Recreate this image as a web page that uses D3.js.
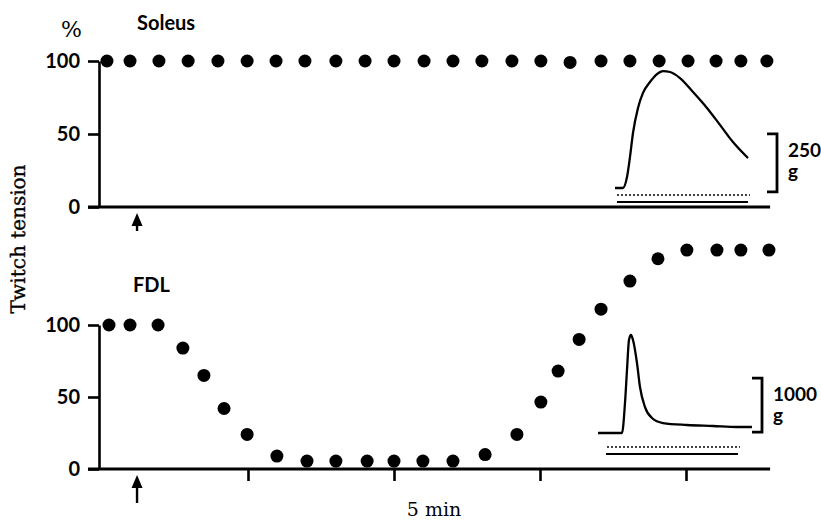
<!DOCTYPE html>
<html>
<head>
<meta charset="utf-8">
<script src="https://cdn.jsdelivr.net/npm/d3@7"></script>
<style>
  body { margin: 0; background: #fff; }
  svg { display: block; }
  text { opacity: 0.99; }
  .sans { font-family: Lato, "Open Sans", sans-serif; font-weight: 700; fill: #000; }
  .serif { font-family: "DejaVu Serif", serif; fill: #000; }
  .ylabel { stroke: #000; stroke-width: 0.35px; text-rendering: geometricPrecision; }
</style>
</head>
<body>
<svg id="chart" width="821" height="524"></svg>
<script>
// Time axis (minutes) and tension axis (% of control twitch)
const minuteTicks = [5, 10, 15, 20];
const tensionTicks = [0, 50, 100];

// Soleus: twitch tension (% of control) at each sample time (min)
const soleusTimes = [0.17, 0.96, 1.95, 2.95, 3.97, 4.97, 5.96, 6.95, 8.01, 9.01, 10.0, 11.03,
                     12.02, 13.01, 14.04, 15.03, 16.03, 17.09, 18.08, 19.08, 20.07, 21.03, 21.88, 22.77];
const soleusTension = [100, 100, 100, 100, 100, 100, 100, 100, 100, 100, 100, 100,
                       100, 100, 100, 100, 99, 100, 100, 100, 100, 100, 100, 100];

// FDL: twitch tension (% of control) at each sample time (min)
const fdlTimes = [0.24, 0.96, 1.92, 2.77, 3.49, 4.18, 4.97, 5.99, 7.02, 8.01, 9.08, 10.0, 10.99,
                  12.02, 13.12, 14.21, 15.03, 15.62, 16.34, 17.09, 18.08, 19.04, 20.03, 21.06, 21.88, 22.84];
const fdlTension = [100, 100, 100, 84, 65, 42, 24, 9, 5.5, 5.5, 5.5, 5.5, 5.5,
                    5.5, 10, 24, 46.5, 68, 90, 111, 130.5, 146, 152, 152, 152, 152];

// Time of injection (min), marked by arrows under each panel
const injectionTime = 1.2;

// Specimen twitch records: time (ms) and force (g)
const soleusTraceMs = [0, 24, 36, 45, 54, 69, 84, 105, 126, 144, 165, 195, 234, 276, 315, 354, 399];
const soleusTraceG  = [0, 0, 47, 134, 237, 345, 410, 457, 491, 504, 500, 474, 414, 345, 272, 198, 129];
const fdlTraceMs = [0, 72, 81, 87, 93, 99, 105, 117, 126, 141, 162, 195, 267, 345, 417, 462];
const fdlTraceG  = [0, 0, 555, 1167, 1722, 1815, 1722, 1296, 852, 481, 278, 185, 148, 130, 111, 111];

const svg = d3.select("#chart");

const x = d3.scaleLinear().domain([0, 20]).range([102, 686]);
const axisSpan = [-0.48, 22.88];
const yAxisX = 99;

const ySol = d3.scaleLinear().domain([0, 100]).range([207, 61]);
const yFdl = d3.scaleLinear().domain([0, 100]).range([469, 325]);

function styleAxis(g) {
  g.selectAll("path, line").attr("stroke", "#000").attr("stroke-width", 2.6);
  g.selectAll("text")
    .attr("class", "sans")
    .attr("fill", "#000")
    .style("font-size", "20px");
}

function drawPanel(yScale, times, values, withTicks, arrowTip, arrowTail) {
  const panel = svg.append("g");

  // tension axis
  panel.append("g")
    .attr("transform", `translate(${yAxisX},0)`)
    .call(d3.axisLeft(yScale).tickValues(tensionTicks).tickSize(11).tickSizeOuter(0).tickPadding(8))
    .call(styleAxis);

  // time baseline
  panel.append("line")
    .attr("x1", x(axisSpan[0])).attr("x2", x(axisSpan[1]))
    .attr("y1", yScale(0)).attr("y2", yScale(0))
    .attr("stroke", "#000").attr("stroke-width", 2.8);

  if (withTicks) {
    panel.append("g")
      .attr("transform", `translate(0,${yScale(0)})`)
      .call(d3.axisBottom(x).tickValues(minuteTicks).tickSize(12).tickFormat("").tickSizeOuter(0))
      .call(g => g.select(".domain").remove())
      .call(styleAxis);
  }

  // data points
  panel.append("g").selectAll("circle")
    .data(times.map((t, i) => [t, values[i]]))
    .join("circle")
    .attr("cx", d => x(d[0]))
    .attr("cy", d => yScale(d[1]))
    .attr("r", 6.5)
    .attr("fill", "#000");

  // injection arrow
  const ax = x(injectionTime);
  panel.append("line")
    .attr("x1", ax).attr("x2", ax)
    .attr("y1", arrowTip + 8).attr("y2", arrowTail)
    .attr("stroke", "#000").attr("stroke-width", 2.4);
  panel.append("path")
    .attr("d", `M${ax},${arrowTip} L${ax - 5.5},${arrowTip + 13} L${ax + 5.5},${arrowTip + 13} Z`)
    .attr("fill", "#000");
}

drawPanel(ySol, soleusTimes, soleusTension, false, 213, 231);
drawPanel(yFdl, fdlTimes, fdlTension, true, 475, 503);

// Specimen record with its calibration bar
function drawTrace(opt) {
  const sx = d3.scaleLinear().domain([0, 400]).range([opt.x0, opt.x0 + 133.3]);
  const sy = d3.scaleLinear().domain([0, opt.barG]).range([opt.base, opt.base - opt.barPx]);
  const g = svg.append("g");

  g.append("path")
    .datum(opt.ms.map((t, i) => [t, opt.grams[i]]))
    .attr("d", d3.line().x(d => sx(d[0])).y(d => sy(d[1])).curve(d3.curveMonotoneX))
    .attr("fill", "none").attr("stroke", "#000").attr("stroke-width", 2.3)
    .attr("stroke-linejoin", "round");

  // stimulus marker lines under the record
  g.append("line")
    .attr("x1", sx(opt.dot[0])).attr("x2", sx(opt.dot[1]))
    .attr("y1", opt.base + opt.dotOff).attr("y2", opt.base + opt.dotOff)
    .attr("stroke", "#000").attr("stroke-width", 1.6).attr("stroke-dasharray", "2,2");
  g.append("line")
    .attr("x1", sx(opt.solid[0])).attr("x2", sx(opt.solid[1]))
    .attr("y1", opt.base + opt.dotOff + 7).attr("y2", opt.base + opt.dotOff + 7)
    .attr("stroke", "#000").attr("stroke-width", 1.8);

  // calibration bracket
  const yb = sy(opt.barFrom), yt = sy(opt.barFrom + opt.barG);
  g.append("path")
    .attr("d", `M${opt.bx},${yt} H${opt.bx + 10} V${yb} H${opt.bx}`)
    .attr("fill", "none").attr("stroke", "#000").attr("stroke-width", 2.8);
  g.append("text").attr("class", "sans")
    .attr("x", opt.bx + 21).attr("y", yt + 23)
    .style("font-size", "19px").text(opt.label);
  g.append("text").attr("class", "sans")
    .attr("x", opt.bx + 21).attr("y", yt + 44)
    .style("font-size", "19px").text("g");
}

drawTrace({
  ms: soleusTraceMs, grams: soleusTraceG,
  x0: 615, base: 188, barG: 250, barPx: 58, barFrom: -17,
  dot: [6, 405], solid: [6, 399], dotOff: 7,
  bx: 767, label: "250"
});

drawTrace({
  ms: fdlTraceMs, grams: fdlTraceG,
  x0: 598, base: 433, barG: 1000, barPx: 54, barFrom: 18,
  dot: [27, 426], solid: [24, 420], dotOff: 14,
  bx: 752, label: "1000"
});

// Titles and axis labels
svg.append("text").attr("class", "sans").attr("x", 137).attr("y", 30)
  .style("font-size", "20px").text("Soleus");
svg.append("text").attr("class", "sans").attr("x", 133).attr("y", 292)
  .style("font-size", "20px").text("FDL");
svg.append("text").attr("class", "serif").attr("x", 61).attr("y", 37)
  .style("font-size", "22px").text("%");
svg.append("text").attr("class", "serif ylabel")
  .attr("transform", "translate(25,239) rotate(-90)")
  .attr("text-anchor", "middle")
  .style("font-size", "20px").text("Twitch tension");
svg.append("text").attr("class", "serif")
  .attr("x", 434).attr("y", 516)
  .attr("text-anchor", "middle")
  .style("font-size", "19px").text("5 min");
</script>
</body>
</html>
